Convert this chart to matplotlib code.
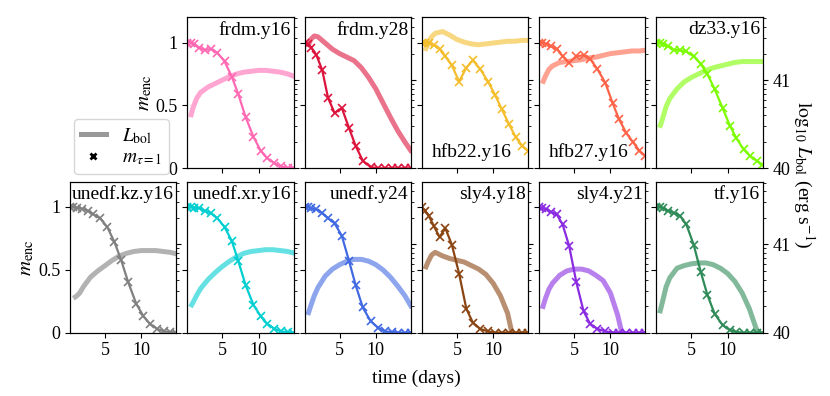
import numpy as np
import matplotlib.pyplot as plt
from matplotlib.lines import Line2D
from matplotlib.ticker import LogLocator, FuncFormatter, NullFormatter

plt.rcParams['font.family'] = ['Liberation Serif', 'DejaVu Serif']
plt.rcParams['mathtext.fontset'] = 'stix'
plt.rcParams['font.size'] = 13

# time grids (days)
m_days = [0.15, 0.6, 1.1, 1.8, 2.6, 3.4, 4.3, 5.3, 6.3, 7.2, 8.2, 9.3, 10.3, 11.2, 12.2, 13.1, 14.0, 14.8]
lbol_days = [0.6, 1.0, 1.5, 2.0, 3, 4, 5, 6, 7, 8, 9, 10, 11, 12, 13, 14, 15]

# enclosed mass at the photosphere (m_tau=1), one list per model
m_frdm_y16 = [1.0, 1.0, 0.99, 0.96, 0.94, 0.95, 0.92, 0.85, 0.73, 0.59, 0.41, 0.25, 0.14, 0.08, 0.04, 0.015, 0.005, 0.0]
m_frdm_y28 = [1.0, 0.99, 0.96, 0.90, 0.78, 0.56, 0.44, 0.48, 0.32, 0.18, 0.06, 0.01, 0, 0, 0, 0, 0, 0]
m_hfb22_y16 = [1.0, 1.0, 0.995, 0.98, 0.95, 0.89, 0.82, 0.69, 0.80, 0.86, 0.79, 0.69, 0.58, 0.47, 0.35, 0.25, 0.18, 0.14]
m_hfb27_y16 = [1.0, 1.0, 0.99, 0.97, 0.95, 0.89, 0.84, 0.89, 0.90, 0.87, 0.79, 0.68, 0.52, 0.39, 0.28, 0.21, 0.14, 0.10]
m_dz33_y16 = [1.0, 1.0, 0.99, 0.97, 0.94, 0.94, 0.93, 0.89, 0.83, 0.75, 0.63, 0.48, 0.34, 0.24, 0.15, 0.10, 0.06, 0.03]
m_unedf_kz_y16 = [1.0, 1.0, 0.995, 0.985, 0.97, 0.94, 0.91, 0.84, 0.72, 0.58, 0.40, 0.23, 0.13, 0.07, 0.03, 0.01, 0.005, 0.0]
m_unedf_xr_y16 = [1.0, 1.0, 0.995, 0.99, 0.97, 0.95, 0.91, 0.84, 0.73, 0.57, 0.38, 0.22, 0.13, 0.07, 0.03, 0.01, 0.005, 0.0]
m_unedf_y24 = [1.0, 1.0, 0.99, 0.98, 0.95, 0.91, 0.87, 0.77, 0.57, 0.38, 0.20, 0.09, 0.04, 0.01, 0.005, 0, 0, 0]
m_sly4_y18 = [1.0, 0.97, 0.93, 0.85, 0.76, 0.83, 0.70, 0.47, 0.19, 0.08, 0.03, 0.01, 0, 0, 0, 0, 0, 0]
m_sly4_y21 = [1.0, 0.99, 0.98, 0.96, 0.94, 0.86, 0.69, 0.40, 0.17, 0.07, 0.03, 0.01, 0, 0, 0, 0, 0, 0]
m_tf_y16 = [1.0, 1.0, 0.99, 0.97, 0.95, 0.93, 0.86, 0.70, 0.48, 0.30, 0.15, 0.06, 0.02, 0.005, 0, 0, 0, 0]

# log10 bolometric luminosity (erg/s)
L_frdm_y16 = [40.58, 40.70, 40.80, 40.86, 40.92, 40.96, 41.0, 41.04, 41.07, 41.09, 41.10, 41.11, 41.11, 41.10, 41.09, 41.07, 41.04]
L_frdm_y28 = [41.38, 41.46, 41.50, 41.49, 41.42, 41.35, 41.30, 41.26, 41.22, 41.14, 41.03, 40.90, 40.74, 40.58, 40.43, 40.30, 40.18]
L_hfb22_y16 = [41.33, 41.42, 41.49, 41.53, 41.55, 41.51, 41.46, 41.43, 41.41, 41.40, 41.41, 41.42, 41.43, 41.44, 41.44, 41.45, 41.45]
L_hfb27_y16 = [40.96, 41.04, 41.12, 41.16, 41.20, 41.21, 41.22, 41.23, 41.25, 41.26, 41.28, 41.30, 41.31, 41.32, 41.33, 41.33, 41.34]
L_dz33_y16 = [40.46, 40.56, 40.70, 40.79, 40.90, 40.98, 41.03, 41.07, 41.11, 41.14, 41.16, 41.18, 41.20, 41.21, 41.21, 41.21, 41.21]
L_unedf_kz_y16 = [40.39, 40.41, 40.45, 40.52, 40.63, 40.70, 40.76, 40.82, 40.87, 40.90, 40.92, 40.93, 40.93, 40.93, 40.92, 40.91, 40.89]
L_unedf_xr_y16 = [40.29, 40.35, 40.43, 40.50, 40.60, 40.68, 40.75, 40.81, 40.86, 40.90, 40.92, 40.93, 40.94, 40.94, 40.93, 40.92, 40.90]
L_unedf_y24 = [40.20, 40.30, 40.42, 40.51, 40.64, 40.72, 40.77, 40.81, 40.83, 40.83, 40.81, 40.77, 40.71, 40.63, 40.53, 40.42, 40.28]
L_sly4_y18 = [40.72, 40.80, 40.88, 40.91, 40.87, 40.84, 40.82, 40.80, 40.76, 40.72, 40.66, 40.56, 40.42, 40.22, 39.85, 39.5, 39.2]
L_sly4_y21 = [40.27, 40.38, 40.49, 40.56, 40.65, 40.70, 40.72, 40.72, 40.70, 40.65, 40.59, 40.45, 40.20, 39.85, 39.5, 39.2, 39.0]
L_tf_y16 = [40.22, 40.35, 40.52, 40.62, 40.73, 40.76, 40.78, 40.79, 40.79, 40.77, 40.73, 40.67, 40.58, 40.45, 40.27, 40.03, 39.75]

# (row, col, label, m, L, colour, label position)
panels = [
    (0, 1, 'frdm.y16', m_frdm_y16, L_frdm_y16, 'hotpink', 'top'),
    (0, 2, 'frdm.y28', m_frdm_y28, L_frdm_y28, 'crimson', 'top'),
    (0, 3, 'hfb22.y16', m_hfb22_y16, L_hfb22_y16, '#f3bd2c', 'bottom'),
    (0, 4, 'hfb27.y16', m_hfb27_y16, L_hfb27_y16, 'tomato', 'bottom'),
    (0, 5, 'dz33.y16', m_dz33_y16, L_dz33_y16, 'lawngreen', 'top'),
    (1, 0, 'unedf.kz.y16', m_unedf_kz_y16, L_unedf_kz_y16, 'gray', 'top'),
    (1, 1, 'unedf.xr.y16', m_unedf_xr_y16, L_unedf_xr_y16, 'darkturquoise', 'top'),
    (1, 2, 'unedf.y24', m_unedf_y24, L_unedf_y24, 'royalblue', 'top'),
    (1, 3, 'sly4.y18', m_sly4_y18, L_sly4_y18, 'saddlebrown', 'top'),
    (1, 4, 'sly4.y21', m_sly4_y21, L_sly4_y21, 'blueviolet', 'top'),
    (1, 5, 'tf.y16', m_tf_y16, L_tf_y16, 'seagreen', 'top'),
]

fig, axes = plt.subplots(2, 6, figsize=(8.3, 3.96), dpi=100)
fig.subplots_adjust(left=0.0843, right=0.919, top=0.956, bottom=0.16,
                    wspace=0.102, hspace=0.089)
axes[0, 0].set_visible(False)

logfmt = FuncFormatter(lambda v, _: '%d' % round(np.log10(v)))

for row, col, name, m, L, c, pos in panels:
    ax = axes[row, col]
    tw = ax.twinx()
    tw.plot(lbol_days, 10.0 ** np.array(L), color=c, lw=3.6, alpha=0.6,
            solid_capstyle='butt')
    tw.set_yscale('log')
    tw.set_ylim(1e40, 10 ** 41.71)
    tw.yaxis.set_major_locator(LogLocator(base=10))
    tw.yaxis.set_minor_locator(LogLocator(base=10, subs=np.arange(2, 10)))
    tw.yaxis.set_minor_formatter(NullFormatter())
    if col == 5:
        tw.yaxis.set_major_formatter(logfmt)
    else:
        tw.yaxis.set_major_formatter(NullFormatter())

    ax.plot(m_days, m, color=c, lw=1.6, marker='x', ms=5.5, mew=1.2)
    ax.set_zorder(tw.get_zorder() + 1)
    ax.patch.set_visible(False)
    ax.set_xlim(0.15, 14.85)
    ax.set_ylim(0, 1.2)
    ax.set_xticks([5, 10])
    ax.set_yticks([0, 0.5, 1])
    ax.set_yticklabels(['0', '0.5', '1'])
    if row == 0:
        ax.set_xticklabels([])
    first = (row == 0 and col == 1) or (row == 1 and col == 0)
    if first:
        ax.set_ylabel(r'$m_{\rm enc}$', fontsize=15, labelpad=1)
    else:
        ax.set_yticklabels([])
    if pos == 'top':
        ax.text(0.975, 0.975, name, transform=ax.transAxes, ha='right', va='top',
                fontsize=14)
    else:
        ax.text(0.09, 0.05, name, transform=ax.transAxes, ha='left', va='bottom',
                fontsize=14)

fig.text(0.5015, 0.045, 'time (days)', ha='center', va='center', fontsize=14)
fig.text(0.968, 0.558, r'$\log_{10}\,L_{\rm bol}$ (erg s$^{-1}$)', rotation=270,
         ha='center', va='center', fontsize=14)

handles = [Line2D([], [], color='gray', lw=3.6, alpha=0.8),
           Line2D([], [], color='k', ls='none', marker='x', ms=5, mew=2)]
fig.legend(handles, [r'$L_{\rm bol}$', r'$m_{\tau=1}$'], loc='lower left',
           bbox_to_anchor=(0.089, 0.561), borderaxespad=0, handlelength=1.3,
           handletextpad=0.8, borderpad=0.35, labelspacing=0.15, fontsize=14)

fig.savefig('out.png', dpi=100)
